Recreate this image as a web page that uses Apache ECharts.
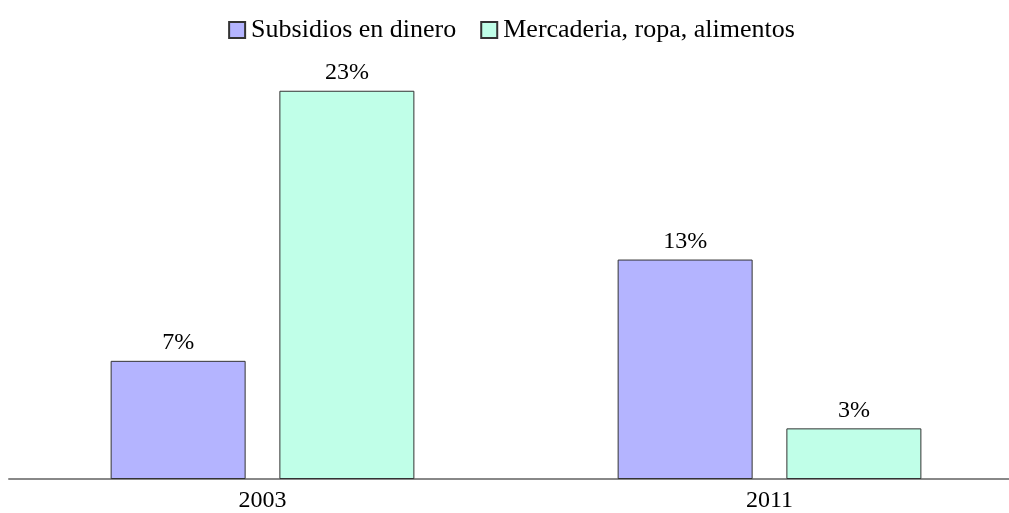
<!DOCTYPE html>
<html>
<head>
    <meta charset="utf-8">
    <title>ECharts</title>
    <script src="https://cdn.jsdelivr.net/npm/echarts@6/dist/echarts.min.js"></script>
</head>
<body style="margin:0;overflow:hidden">
<!-- chart is a bit wider than the window: the axis runs off the right edge in the original -->
<div id="main" style="width: 1023px;height:513px;"></div>
<script type="text/javascript">
    var years = ['2003', '2011'];
    var subsidios = [7, 13];
    var mercaderia = [23, 3];

    var myChart = echarts.init(document.getElementById('main'));
    var font = '"Liberation Serif", serif';

    var label = {
        show: true,
        position: 'top',
        distance: 6,
        formatter: '{c}%',
        color: '#000',
        fontFamily: font,
        fontSize: 24
    };

    var option = {
        animation: false,
        legend: {
            top: 12,
            left: 'center',
            icon: 'rect',
            itemWidth: 16,
            itemHeight: 16,
            itemGap: 24,
            textStyle: { fontFamily: font, fontSize: 26, color: '#000', padding: [0, 0, 0, 1] },
            data: ['Subsidios en dinero', 'Mercaderia, ropa, alimentos']
        },
        grid: { left: 9, right: 0, top: 57, bottom: 32 },
        xAxis: {
            type: 'category',
            data: years,
            axisLine: { lineStyle: { color: '#888', width: 2 } },
            axisTick: { show: false },
            axisLabel: { color: '#000', fontFamily: font, fontSize: 24, margin: 10 }
        },
        yAxis: {
            type: 'value',
            min: 0,
            max: 25,
            show: false,
            splitLine: { show: false }
        },
        series: [{
            name: 'Subsidios en dinero',
            type: 'bar',
            barWidth: 135,
            barGap: '25%',
            itemStyle: { color: '#b4b4ff', borderColor: '#333', borderWidth: 1 },
            label: label,
            data: subsidios
        }, {
            name: 'Mercaderia, ropa, alimentos',
            type: 'bar',
            barWidth: 135,
            barGap: '25%',
            itemStyle: { color: '#c0ffe8', borderColor: '#333', borderWidth: 1 },
            label: label,
            data: mercaderia
        }]
    };

    myChart.setOption(option);
</script>
</body>
</html>
